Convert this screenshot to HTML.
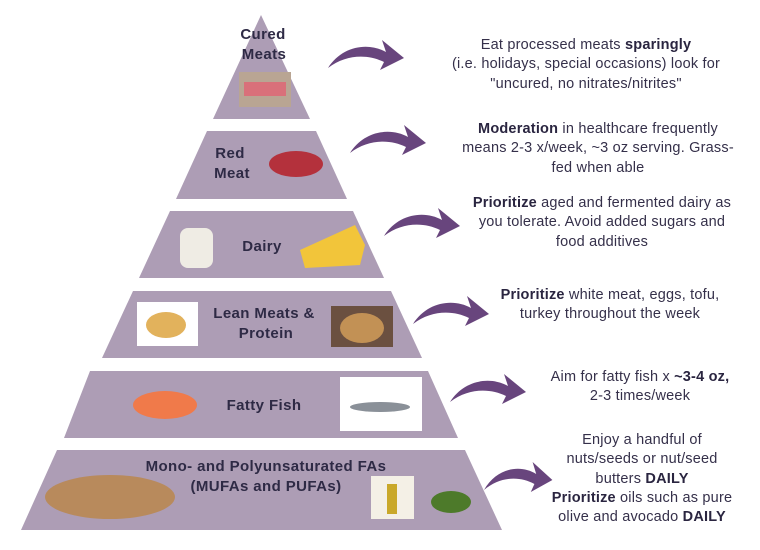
<!DOCTYPE html>
<html><head><meta charset="utf-8"><style>
body{margin:0;width:760px;height:550px;background:#fff;overflow:hidden;font-family:"Liberation Sans",sans-serif}
svg{position:absolute;left:0;top:0}
.t{position:absolute;text-align:center;font-size:14.5px;letter-spacing:0.2px;line-height:19.3px;color:#35304a;white-space:nowrap}
.t b{color:#2a2540}
</style></head><body>
<svg width="760" height="550" viewBox="0 0 760 550">
<defs>
<path id="arr" d="M0,28 C14,6 40,2 58,12 L54,0 L76,18 L52,30 L56,22 C40,14 18,14 0,28 Z" fill="#68457d"/>
</defs>
<g fill="#ad9db5">
<polygon points="261,15 310,119 213,119"/>
<polygon points="207,131 316,131 347,199 176,199"/>
<polygon points="170,211 353,211 384,278 139,278"/>
<polygon points="133,291 391,291 422,358 102,358"/>
<polygon points="90,371 428,371 458,438 64,438"/>
<polygon points="57,450 465,450 502,530 21,530"/>
</g>
<rect x="239" y="72" width="52" height="35" fill="#b9a593"/><rect x="244" y="82" width="42" height="14" fill="#d9707a"/>
<ellipse cx="296" cy="164" rx="27" ry="13" fill="#b4313c"/>
<rect x="180" y="228" width="33" height="40" rx="8" fill="#efece4"/>
<polygon points="300,250 355,225 365,245 360,265 305,268" fill="#f2c53a"/>
<rect x="137" y="302" width="61" height="44" fill="#fff"/><ellipse cx="166" cy="325" rx="20" ry="13" fill="#e2b25c"/>
<rect x="331" y="306" width="62" height="41" fill="#6b5040"/><ellipse cx="362" cy="328" rx="22" ry="15" fill="#c29155"/>
<ellipse cx="165" cy="405" rx="32" ry="14" fill="#f07a4a"/>
<rect x="340" y="377" width="82" height="54" fill="#fff"/><ellipse cx="380" cy="407" rx="30" ry="5" fill="#8a9098"/>
<ellipse cx="110" cy="497" rx="65" ry="22" fill="#b88a5c"/>
<rect x="371" y="476" width="43" height="43" fill="#f4f0e6"/><rect x="387" y="484" width="10" height="30" fill="#c9a82a"/>
<ellipse cx="451" cy="502" rx="20" ry="11" fill="#4d7a2a"/>
<g font-family="Liberation Sans,sans-serif" font-weight="bold" font-size="15" letter-spacing="0.4" fill="#2e2a45" text-anchor="middle">
<text x="263" y="39">Cured</text><text x="264" y="59">Meats</text>
<text x="230" y="158">Red</text><text x="232" y="178">Meat</text>
<text x="262" y="251">Dairy</text>
<text x="264" y="318">Lean Meats &amp;</text><text x="266" y="338">Protein</text>
<text x="264" y="410">Fatty Fish</text>
<text x="266" y="471">Mono- and Polyunsaturated FAs</text><text x="266" y="491">(MUFAs and PUFAs)</text>
</g>
<use href="#arr" transform="translate(328,40)"/>
<use href="#arr" transform="translate(350,125)"/>
<use href="#arr" transform="translate(384,208)"/>
<use href="#arr" transform="translate(413,296)"/>
<use href="#arr" transform="translate(450,374)"/>
<use href="#arr" transform="translate(484,462) scale(0.9,1)"/>
</svg>
<div class="t" style="left:586px;top:36px;transform:translateX(-50%)">Eat processed meats <b>sparingly</b><br>(i.e. holidays, special occasions) look for<br>"uncured, no nitrates/nitrites"</div>
<div class="t" style="left:598px;top:120px;transform:translateX(-50%)"><b>Moderation</b> in healthcare frequently<br>means 2-3 x/week, ~3 oz serving. Grass-<br>fed when able</div>
<div class="t" style="left:602px;top:194px;transform:translateX(-50%)"><b>Prioritize</b> aged and fermented dairy as<br>you tolerate. Avoid added sugars and<br>food additives</div>
<div class="t" style="left:610px;top:286px;transform:translateX(-50%)"><b>Prioritize</b> white meat, eggs, tofu,<br>turkey throughout the week</div>
<div class="t" style="left:640px;top:368px;transform:translateX(-50%)">Aim for fatty fish x <b>~3-4 oz,</b><br>2-3 times/week</div>
<div class="t" style="left:642px;top:431px;transform:translateX(-50%)">Enjoy a handful of<br>nuts/seeds or nut/seed<br>butters <b>DAILY</b><br><b>Prioritize</b> oils such as pure<br>olive and avocado <b>DAILY</b></div>
</body></html>
